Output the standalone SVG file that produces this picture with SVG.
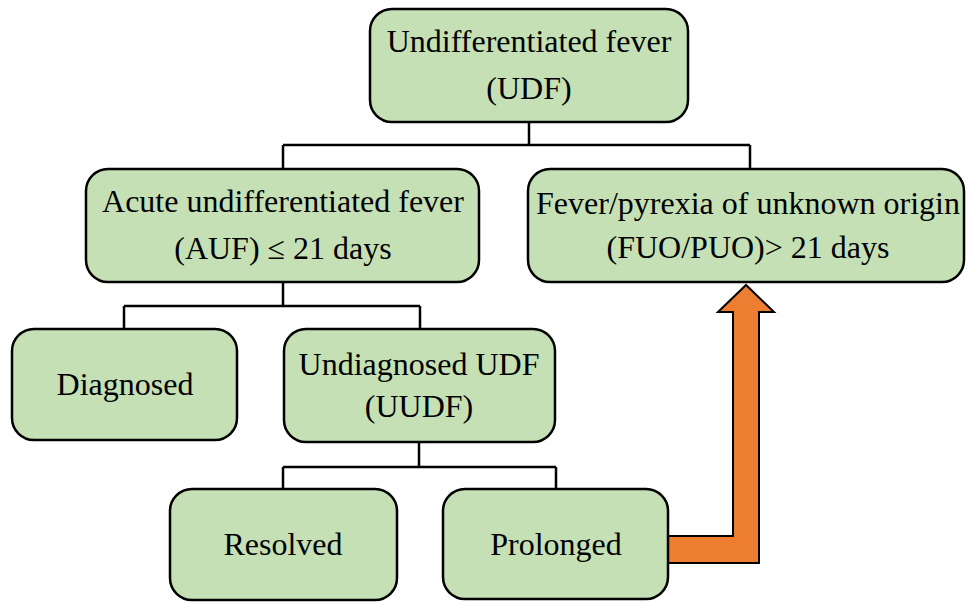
<svg xmlns="http://www.w3.org/2000/svg" width="966" height="604" viewBox="0 0 966 604">
  <style>
    .box { fill: #C5E0B4; stroke: #000; stroke-width: 2.5; }
    .lbl { font-family: "Liberation Serif", "Times New Roman", serif; font-size: 32px; fill: #000; text-anchor: middle; }
    .wire { fill: none; stroke: #000; stroke-width: 2.5; }
    .arrow { fill: #ED7D31; stroke: #000; stroke-width: 2; stroke-linejoin: miter; }
  </style>
  <rect width="966" height="604" fill="#fff"/>

  <!-- tree connectors -->
  <g id="connectors">
    <path class="wire" d="M529,122 V145 M283,145 H750 M283,145 V169 M750,145 V169"/>
    <path class="wire" d="M283,282 V306 M124,306 H420 M124,306 V329 M420,306 V329"/>
    <path class="wire" d="M419,442 V467 M283,467 H556 M283,467 V489 M556,467 V489"/>
    <path class="arrow" d="M668,536 H733 V312 H718 L746,285 L774,312 H759 V563 H668 Z"/>
  </g>

  <g id="udf">
    <rect class="box" x="370" y="9" width="318" height="113" rx="22"/>
    <text class="lbl" x="529" y="52">Undifferentiated fever</text>
    <text class="lbl" x="529" y="99">(UDF)</text>
  </g>

  <g id="auf">
    <rect class="box" x="86" y="169" width="393" height="113" rx="22"/>
    <text class="lbl" x="283" y="212">Acute undifferentiated fever</text>
    <text class="lbl" x="283" y="259">(AUF) ≤ 21 days</text>
  </g>

  <g id="fuo">
    <rect class="box" x="528" y="169" width="436" height="113" rx="22"/>
    <text class="lbl" x="748" y="214">Fever/pyrexia of unknown origin</text>
    <text class="lbl" x="748" y="258">(FUO/PUO)&gt; 21 days</text>
  </g>

  <g id="diagnosed">
    <rect class="box" x="12" y="329" width="225" height="111" rx="22"/>
    <text class="lbl" x="125" y="395">Diagnosed</text>
  </g>

  <g id="uudf">
    <rect class="box" x="284" y="329" width="271" height="113" rx="22"/>
    <text class="lbl" x="419" y="375">Undiagnosed UDF</text>
    <text class="lbl" x="419" y="417">(UUDF)</text>
  </g>

  <g id="resolved">
    <rect class="box" x="170" y="489" width="227" height="111" rx="22"/>
    <text class="lbl" x="283" y="555">Resolved</text>
  </g>

  <g id="prolonged">
    <rect class="box" x="443" y="489" width="225" height="110" rx="22"/>
    <text class="lbl" x="556" y="555">Prolonged</text>
  </g>
</svg>
